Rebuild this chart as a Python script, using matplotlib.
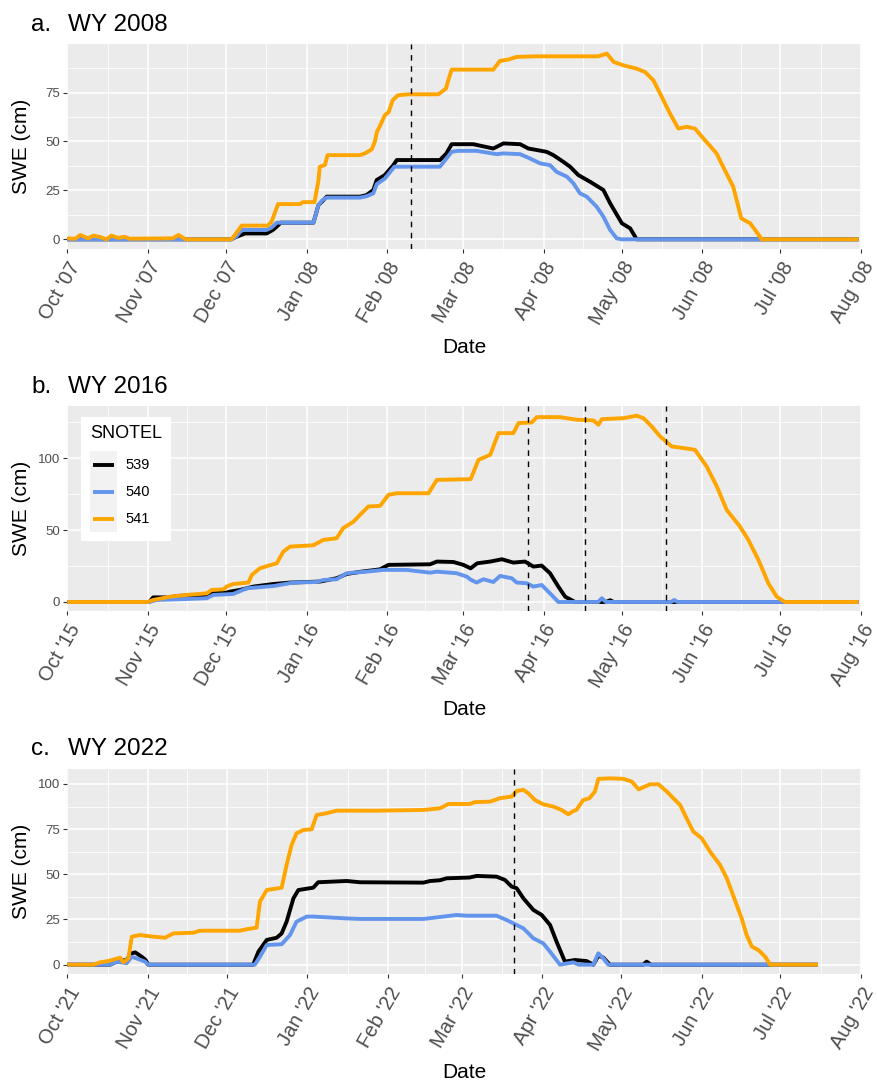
import matplotlib
matplotlib.use("Agg")
import matplotlib.pyplot as plt
import matplotlib.dates as mdates
import numpy as np
import pandas as pd
from matplotlib.legend_handler import HandlerBase
from matplotlib.patches import Rectangle
from matplotlib.lines import Line2D

plt.rcParams['font.family'] = ['Liberation Sans', 'DejaVu Sans']

# ---------------- data: (day of water year since Oct 1, SWE cm) ----------------
stations = ["539", "540", "541"]
colors = {"539": "#000000", "540": "#6495ED", "541": "#FFA500"}

swe_2008_539 = [(0,0),(63,0),(64.5,1),(68.3,3),(76.6,3),(79,4.8),(80.5,6.5),(82,8.5),(94.6,8.5),(96.5,17.5),
    (97.8,19.2),(99.7,21.8),(112.5,21.8),(115,22.6),(117.6,25.2),(118.9,30.3),(122,32.8),(125.3,37.9),(126.6,40.5),
    (143.2,40.5),(145.7,43.9),(147.7,48.6),(156,48.6),(163.7,46.4),(167.6,49),(174,48.6),(177.2,46.4),(184.2,44.7),
    (186.8,43),(190.6,39.6),(193.2,37.1),(196.4,32.8),(200.9,29.4),(206,25.2),(208.6,18.4),(213.1,8.2),(216.3,5.6),
    (218.8,0),(304,0)]
swe_2008_540 = [(0,0),(63,0),(65,1.5),(67,4.8),(76.6,4.8),(78.5,6),(80.5,8.5),(94.6,8.5),(96.5,17.5),(98,20),
    (99.7,21.3),(112.5,21.3),(115,22),(117.6,23.5),(118.9,28.2),(122,31),(125.7,37.1),(143.2,37.1),(145.7,41.3),
    (147.7,44.7),(150,45.2),(157.3,45.2),(165,43.5),(167.6,43.9),(174,43.5),(177.8,41.3),(181.7,38.8),(185.5,37.9),
    (188,34.5),(192,32),(194.5,28.6),(197,23.5),(199.6,21.8),(203.4,16.7),(206,11.6),(208.6,4.8),(211.1,0.5),
    (213,0),(304,0)]
swe_2008_541 = [(0,0.5),(3,0.3),(5,2.2),(8,0.5),(10,1.9),(12.6,1.2),(15,0),(17,1.9),(19.6,0.7),(22,1.3),(24,0.3),
    (40.5,0.5),(42.7,2.2),(45.5,0),(63,0),(64,1.5),(67,7),(77,7),(78.5,9),(81,18),(89.5,18),(90.5,19),(95,19),
    (96.5,30),(97,37),(99,38),(100,43),(112.5,43),(114.5,44),(117,46),(118.2,50),(119,55),(120,57.5),(122,63.4),
    (123.5,65),(125,71),(127,73.6),(131,74.1),(142.6,74.1),(145.5,77),(146.8,83),(147.7,86.7),(163.7,86.7),
    (166.3,91.2),(169.3,91.8),(172.7,93.2),(180.2,93.5),(204,93.5),(207.3,94.9),(210,90.6),(213.7,88.9),
    (218.8,87.2),(222,85.5),(225.2,81.3),(227.8,74.5),(231.6,64.3),(234.8,56.6),(238,57.5),(241.2,56.6),
    (245,50.7),(249.5,43.9),(252,37.1),(255.9,26.9),(259,10.7),(262.4,8.2),(264.3,4.8),(266.9,0),(304,0)]

swe_2016_539 = [(0,0),(31.5,0),(33,3.2),(39.5,3.2),(42,4.2),(53.6,4.9),(56,6),(61.2,6.5),(62.5,7.2),(66.4,8.4),
    (71.5,10.7),(79.2,12.5),(85.6,13.5),(97.1,14.2),(103.5,16.5),(107.4,19.5),(113.1,21.1),(120.2,22.7),
    (123.4,25.8),(139.4,26.2),(142,28.1),(148.4,27.8),(152.2,25.8),(155,23.4),(157.5,26.9),(162.5,28.1),
    (167,29.7),(171.4,27.4),(175.9,28.1),(179.1,24.6),(182.3,25.3),(185.5,20),(188.7,10.7),(191.3,3.7),
    (195.1,0),(207,0),(208.6,1.2),(210,0),(304,0)]
swe_2016_540 = [(0,0),(31.5,0),(34.3,1.4),(43.3,1.9),(53.6,2.6),(56.1,4.9),(63.8,5.6),(68.9,9.5),(79.2,11.1),
    (86.9,13.5),(95.8,13.9),(98.4,15.3),(103.5,15.8),(107.4,20),(115,21.1),(121.5,22.3),(130.4,22.3),
    (139.4,20.4),(142,21.1),(149.6,20),(153.5,17.6),(155,15.5),(157.3,13.5),(159.9,15.8),(163.7,13.9),
    (166.3,18.1),(170.8,16.5),(172.7,13.5),(176.6,13),(179.1,10.7),(182.3,11.8),(185.5,6),(188.7,0),(204,0),
    (205.4,2.6),(207,0),(232,0),(233.2,1.4),(234.5,0),(304,0)]
swe_2016_541 = [(0,0),(31,0),(33,1.4),(39.5,3.7),(45.9,4.9),(53.6,6),(55.5,8.4),(60,8.8),(61.2,10.7),(63.8,12.5),
    (69.6,13.5),(70.9,18.8),(74,23.4),(77,25.1),(80.5,26.9),(83,35),(85.6,38.5),(94.5,39.4),(98.4,43.2),
    (103.5,44.3),(106,51.3),(110,55.9),(112.5,60.6),(115.7,66.4),(120.2,66.8),(123.4,74.5),(126.6,75.6),
    (138.8,75.6),(142,84.9),(155,85.4),(158,98.8),(162.5,102.3),(165.7,117.4),(171.4,117.4),(173.4,124.4),
    (178.5,124.8),(180.4,128.5),(189.3,128.5),(195.8,126.7),(202.2,126.2),(204.1,123.2),(205.4,127.1),
    (213.7,127.8),(218.8,129.5),(221.4,127.8),(224.6,122),(227.8,115.1),(232.3,108.1),(236.8,107),
    (241.2,105.8),(245.7,94.2),(249.6,80.3),(253.4,64),(258.5,52.4),(261.7,43.2),(265.6,29.2),(269.4,13),
    (272.6,3.7),(275.8,0),(304,0)]

swe_2022_539 = [(0,0),(16.4,0),(18.9,1.7),(22.7,2.6),(24.7,6.3),(26,6.8),(28.5,4.4),(30,2.6),(31,0),(71.2,0),
    (73.2,7.2),(76.4,13.7),(80.2,14.9),(82.1,17.3),(84,23.8),(86.6,36.7),(88.5,41.3),(94.2,42.6),(96.1,45.6),
    (107,46.3),(112.1,45.6),(136.4,45.4),(139,46.3),(142.7,46.7),(145.3,47.8),(154,48.2),(156.8,49.1),
    (164.4,48.7),(167.6,46.9),(170.2,43.2),(172.1,42.3),(174.7,36.7),(178.5,30.3),(181.7,27.5),(184.9,22),
    (187.4,12.7),(190.6,1.7),(194.4,2.6),(198.9,2),(201.5,0),(203.4,5),(205.3,3.9),(207.8,0),(220.5,0),
    (221.9,1.7),(223.5,0),(287.5,0)]
swe_2022_540 = [(0,0),(16.4,0),(18.9,1.7),(22.7,0.8),(24.7,4.4),(27.2,3.1),(29.8,1.7),(31,0),(71.8,0),(73.8,4.4),
    (76.4,10.9),(82.1,11.3),(85.3,16.4),(87.8,23.8),(91.7,26.6),(94.2,26.6),(107,25.6),(112.1,25.3),(136.4,25.3),
    (144,26.6),(149.1,27.5),(153,27.1),(164.4,27.1),(168.3,24.7),(170.8,22.9),(174.7,20.1),(178.5,14.6),
    (182.3,11.8),(184.9,7.2),(188.7,0),(193.8,1.3),(196,0),(201.5,0),(203.4,6.3),(205.3,3.5),(207.2,0),(287.5,0)]
swe_2022_541 = [(0,0),(10,0),(12.5,1.3),(15.7,2),(18.3,3.1),(20.2,3.9),(21.5,1.3),(23.4,3.5),(24.7,15.5),
    (27.8,16.4),(33,15.5),(37.4,14.9),(40.6,17.3),(48.3,17.7),(50.8,18.8),(66.1,18.8),(68.7,19.6),(72.5,20.5),
    (73.8,34.9),(76.4,41.3),(82.1,42.6),(84,55.2),(85.9,66.2),(87.8,72.7),(90.4,74.5),(93.6,74.9),(95.5,82.8),
    (99.3,83.8),(103.2,85.2),(118.5,85.2),(136.4,85.6),(142.7,86.5),(146,88.9),(154.3,88.9),(156,89.9),
    (161.9,90.2),(165.7,92.1),(170.2,93),(172.1,96.1),(174.7,96.7),(176.6,94.8),(179.1,91.1),(182.3,88.7),
    (186.1,87.5),(189.3,85.6),(191.9,83.2),(193.8,85),(195,85.6),(197.6,91.1),(200,92.1),(202.1,95.8),
    (203.4,102.8),(207.8,103.1),(213,102.8),(216.2,101.3),(218.8,97),(220.7,98.2),(223.2,99.8),(226.4,99.8),
    (229.6,95.8),(232.1,92.1),(234.7,88.4),(237.2,81),(239.8,73.6),(243,69.9),(246.2,62.5),(250,55.2),
    (252.6,47.8),(256.4,33),(258.3,25.6),(260.2,16.4),(262.2,10),(264.7,8.1),(267.3,4.4),(269.2,0),(287.5,0)]

water_years = [2008, 2016, 2022]
panel_letters = ["a.", "b.", "c."]
panel_titles = ["WY 2008", "WY 2016", "WY 2022"]
series = {
    2008: {"539": swe_2008_539, "540": swe_2008_540, "541": swe_2008_541},
    2016: {"539": swe_2016_539, "540": swe_2016_540, "541": swe_2016_541},
    2022: {"539": swe_2022_539, "540": swe_2022_540, "541": swe_2022_541},
}
vline_dates = {
    2008: ["2008-02-10"],
    2016: ["2016-03-26", "2016-04-17", "2016-05-18"],
    2022: ["2022-03-21"],
}
y_breaks = {2008: [0, 25, 50, 75], 2016: [0, 50, 100], 2022: [0, 25, 50, 75, 100]}
y_minor = {2008: [12.5, 37.5, 62.5, 87.5], 2016: [25, 75, 125], 2022: [12.5, 37.5, 62.5, 87.5]}


class KeyHandler(HandlerBase):
    """ggplot-like legend key: light grey square with a centred line."""
    def create_artists(self, legend, orig_handle, xdescent, ydescent, width, height, fontsize, trans):
        bgk = Rectangle((-xdescent, -ydescent), width, height, facecolor="#F2F2F2",
                        edgecolor="none", transform=trans)
        yc = -ydescent + height / 2
        ln = Line2D([-xdescent + 2, -xdescent + width - 2], [yc, yc],
                    color=orig_handle.get_color(), lw=orig_handle.get_linewidth(),
                    solid_capstyle="butt", transform=trans)
        return [bgk, ln]


# ---------------- layout (pixels) ----------------
W, H = 877, 1082
fig = plt.figure(figsize=(W / 100, H / 100), dpi=100)
left_px, right_px = 67.3, 861.0
panel_px = [(44.3, 248.6), (406.4, 611.3), (769.0, 974.0)]  # (top, bottom)

bg = "#EBEBEB"
tick_col = "#4D4D4D"

for i, wy in enumerate(water_years):
    top, bot = panel_px[i]
    ax = fig.add_axes([left_px / W, 1 - bot / H, (right_px - left_px) / W, (bot - top) / H])
    ax.set_facecolor(bg)
    for s in ax.spines.values():
        s.set_visible(False)

    start = pd.Timestamp(f"{wy - 1}-10-01")
    end = pd.Timestamp(f"{wy}-08-01")
    ymax = 0
    line_handles = []
    for st in stations:
        d = np.array([p[0] for p in series[wy][st]])
        v = np.array([p[1] for p in series[wy][st]])
        ymax = max(ymax, v.max())
        dates = (start + pd.to_timedelta(d, unit="D")).to_pydatetime()
        ln, = ax.plot(dates, v, color=colors[st], lw=2.8, solid_joinstyle="round",
                      solid_capstyle="butt", zorder=3, label=st)
        line_handles.append(ln)
    for vd in vline_dates[wy]:
        ax.axvline(pd.Timestamp(vd).to_pydatetime(), color="black", lw=1.0,
                   linestyle=(0, (4, 4)), zorder=4)

    months = pd.date_range(start, end, freq="MS")
    mnum = mdates.date2num(months.to_pydatetime())
    ax.set_xlim(mnum[0], mnum[-1])
    ax.set_xticks(mnum)
    ax.set_xticks((mnum[:-1] + mnum[1:]) / 2, minor=True)
    ax.set_xticklabels([m.strftime("%b '%y") for m in months], rotation=60,
                       ha="right", va="top", rotation_mode="anchor",
                       fontsize=14.5, color=tick_col)
    ax.set_ylim(-0.05 * ymax, 1.05 * ymax)
    ax.set_yticks(y_breaks[wy])
    ax.set_yticks(y_minor[wy], minor=True)
    ax.set_yticklabels([str(b) for b in y_breaks[wy]], fontsize=9.5, color=tick_col)

    ax.grid(which="major", color="white", lw=1.1, zorder=0)
    ax.grid(which="minor", color="white", lw=0.55, zorder=0)
    ax.set_axisbelow(True)
    ax.tick_params(axis="both", which="major", length=3, width=0.8, color="#333333")
    ax.tick_params(axis="x", which="major", pad=4.0)
    ax.tick_params(axis="y", which="major", pad=2.2)
    ax.tick_params(which="minor", length=0)

    ax.set_xlabel("Date", fontsize=15)
    ax.xaxis.set_label_coords(0.5, (bot - 347.5 - (top - 44.3)) / (bot - top))
    ax.xaxis.label.set_va("center")
    ax.set_ylabel("SWE (cm)", fontsize=15)
    ax.yaxis.set_label_coords((22 - left_px) / (right_px - left_px), 0.5)
    ax.yaxis.label.set_va("center")

    base = top - 13.6
    fig.text(31 / W, 1 - base / H, panel_letters[i], fontsize=17.5, va="baseline", ha="left")
    fig.text(68.3 / W, 1 - base / H, panel_titles[i], fontsize=17.5, va="baseline", ha="left")

    if wy == 2016:
        bx = (81 - left_px) / (right_px - left_px)
        by = 1 - (416.7 - top) / (bot - top)
        leg = ax.legend(line_handles, stations, handler_map={Line2D: KeyHandler()},
                        title="SNOTEL", loc="upper left", bbox_to_anchor=(bx, by),
                        borderaxespad=0, fontsize=10.5, title_fontsize=13,
                        frameon=True, fancybox=False, framealpha=1, facecolor="white",
                        edgecolor="none", handlelength=1.88, handleheight=2.47,
                        labelspacing=0, handletextpad=0.6, borderpad=0.6,
                        alignment="left")
        leg._legend_box.sep = 6.5
        leg.set_zorder(10)

fig.savefig("out.png", dpi=100)
